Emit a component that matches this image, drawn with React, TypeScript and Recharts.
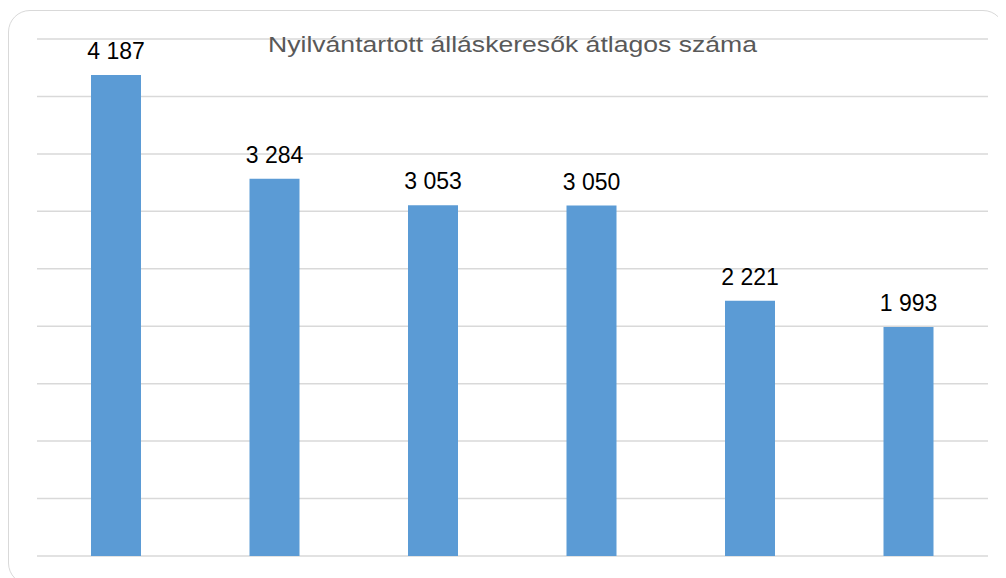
import React from "react";
import { BarChart, Bar, XAxis, YAxis, CartesianGrid, LabelList } from "recharts";

const categories = ["1", "2", "3", "4", "5", "6"];
const values = [4187, 3284, 3053, 3050, 2221, 1993];
const yTicks = [0, 500, 1000, 1500, 2000, 2500, 3000, 3500, 4000, 4500];
const title = "Nyilvántartott álláskeresők átlagos száma";

const data = categories.map((c, i) => ({ name: c, value: values[i] }));

const fmt = (v: number) => {
  const s = String(Math.round(v));
  return s.replace(/\B(?=(\d{3})+(?!\d))/g, " ");
};

export default function App() {
  return (
    <div style={{ position: "relative", width: 998, height: 570, overflow: "hidden", fontFamily: "'Liberation Sans', Arial, sans-serif" }}>
      <div
        style={{
          position: "absolute",
          left: 0,
          top: 2,
          width: 997,
          height: 575,
          border: "1.5px solid #d9d9d9",
          borderRadius: 22,
          boxSizing: "border-box",
        }}
      />
      <BarChart
        width={998}
        height={570}
        data={data}
        margin={{ top: 31, right: 18, bottom: 22, left: 29 }}
        style={{ position: "absolute", left: 0, top: 0 }}
      >
        <CartesianGrid vertical={false} stroke="#d9d9d9" strokeWidth={1.5} />
        <XAxis dataKey="name" hide />
        <YAxis
          domain={[0, 4500]}
          ticks={yTicks}
          width={0}
          tick={{ fill: "none", fontSize: 1 }}
          axisLine={false}
          tickLine={false}
        />
        <Bar dataKey="value" fill="#5b9bd5" barSize={50} isAnimationActive={false}>
          <LabelList
            dataKey="value"
            position="top"
            offset={16}
            formatter={(v: any) => fmt(Number(v))}
            style={{ fontSize: 23, fill: "#000000", fontFamily: "'Liberation Sans', Arial, sans-serif" }}
          />
        </Bar>
      </BarChart>
      <svg width={998} height={80} style={{ position: "absolute", left: 0, top: 0, pointerEvents: "none" }}>
        <text
          x={504.5}
          y={44}
          textAnchor="middle"
          fontSize={22}
          fill="#595959"
          textLength={489}
          lengthAdjust="spacingAndGlyphs"
          fontFamily="'Liberation Sans', Arial, sans-serif"
        >
          {title}
        </text>
      </svg>
    </div>
  );
}
